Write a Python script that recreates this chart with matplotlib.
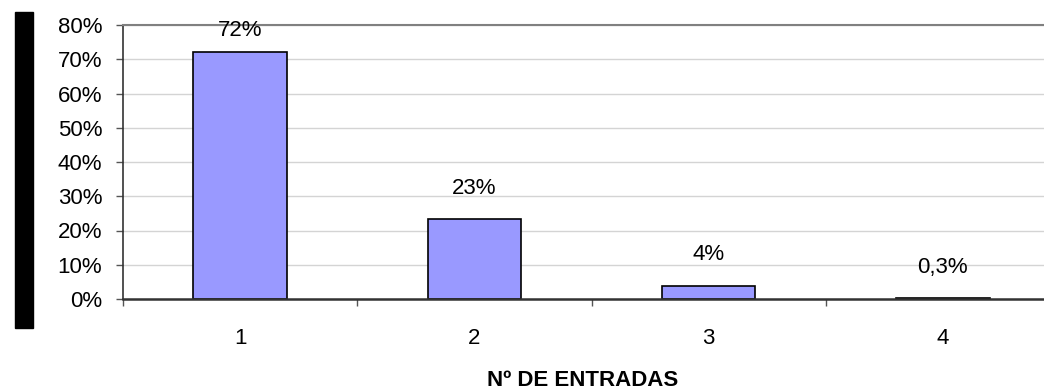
import matplotlib
matplotlib.use("Agg")
import matplotlib.pyplot as plt
from matplotlib.patches import Rectangle
from matplotlib.ticker import FixedLocator, PercentFormatter

plt.rcParams['font.family'] = ['Liberation Sans', 'DejaVu Sans']

categories = ["1", "2", "3", "4"]
shares = [0.72, 0.234, 0.039, 0.003]
share_labels = ["72%", "23%", "4%", "0,3%"]
y_ticks = [0.0, 0.1, 0.2, 0.3, 0.4, 0.5, 0.6, 0.7, 0.8]

fig = plt.figure(figsize=(10.44, 3.92), dpi=100)
ax = fig.add_axes([123 / 1044, 1 - 299 / 392, 937 / 1044, 274 / 392])

pos = list(range(len(categories)))
ax.bar(pos, shares, width=0.4, color="#9999FF", edgecolor="black",
       linewidth=1.2, zorder=2)

for x, v, lab in zip(pos, shares, share_labels):
    ax.text(x, min(v + 0.09, 0.785), lab, ha="center", va="center",
            fontsize=16, color="black", zorder=4)

ax.set_xlim(-0.5, len(categories) - 0.5)
ax.set_ylim(0, 0.8)
ax.set_yticks(y_ticks)
ax.yaxis.set_major_formatter(PercentFormatter(1.0, decimals=0))
ax.yaxis.grid(True, color="#d4d4d4", linewidth=1.0, zorder=0)
ax.set_axisbelow(True)

# category boundaries carry the tick marks, centres carry the labels
ax.xaxis.set_major_locator(FixedLocator([p - 0.5 for p in pos]))
ax.xaxis.set_major_formatter(plt.NullFormatter())
ax.xaxis.set_minor_locator(FixedLocator(pos))
ax.set_xticklabels(categories, minor=True)
ax.tick_params(axis="x", which="major", direction="out", length=5,
               width=1.0, color="#555555")
ax.tick_params(axis="x", which="minor", length=0, pad=21, labelsize=16)
ax.tick_params(axis="y", direction="out", length=5, width=1.0,
               color="#555555", pad=10, labelsize=16)

for side in ("left", "bottom"):
    ax.spines[side].set_color("#333333")
ax.spines["left"].set_linewidth(1.2)
ax.spines["bottom"].set_linewidth(1.8)
ax.spines["top"].set_color("#808080")
ax.spines["top"].set_linewidth(1.5)
ax.spines["right"].set_visible(False)

fig.text(583 / 1044, 1 - 381 / 392, "Nº DE ENTRADAS", ha="center",
         va="center", fontsize=16, fontweight="bold")

fig.patches.append(Rectangle((15 / 1044, 1 - 328 / 392), 18 / 1044,
                             316 / 392, transform=fig.transFigure,
                             color="black", zorder=5))

fig.savefig("out.png", dpi=100)
